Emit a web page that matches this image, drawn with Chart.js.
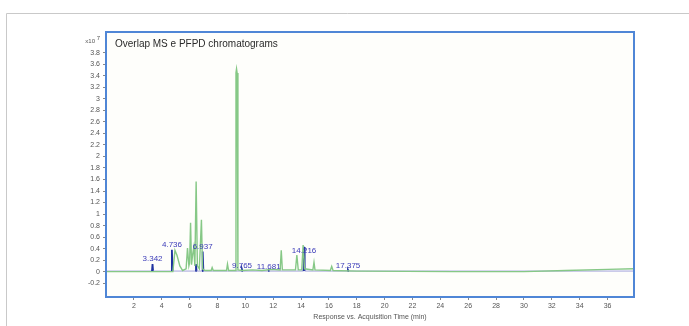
<!DOCTYPE html>
<html>
<head>
<meta charset="utf-8">
<title>Overlap MS e PFPD chromatograms</title>
<script src="https://cdn.jsdelivr.net/npm/chart.js@4.4.1/dist/chart.umd.min.js"></script>
<style>
  html, body { margin: 0; padding: 0; background: #fff; }
  #wrap { position: relative; width: 689px; height: 326px; }
  canvas { display: block; }
</style>
</head>
<body>
<div id="wrap"><canvas id="chromChart" width="689" height="326"></canvas></div>
<script>
'use strict';

/* ---- data (response in units of x10^7, time in min) ---- */
const pfpdTime = [0, 4.8, 4.95, 5.1, 5.3, 5.5, 5.75, 5.85, 5.95, 6.0, 6.07, 6.14, 6.22, 6.3, 6.38, 6.47, 6.56, 6.7, 6.85, 6.93, 7.1,
  7.55, 7.62, 7.7, 8.65, 8.72, 8.8, 9.27, 9.33, 9.37, 9.41, 9.47, 9.8, 10.5, 11.2, 11.9, 12.5, 12.58, 12.66,
  13.6, 13.7, 13.8, 14.05, 14.15, 14.25, 14.85, 14.93, 15.0, 16.1, 16.2, 16.3, 18, 25, 30, 33, 36, 37.9];
const pfpdResp = [0, 0, 0.37, 0.28, 0.1, 0.02, 0.05, 0.41, 0.1, 0.15, 0.85, 0.12, 0.3, 0.42, 0.1, 1.565, 0.1, 0.05, 0.9, 0.05, 0.02,
  0.02, 0.07, 0.02, 0.02, 0.13, 0.02, 0.02, 3.45, 3.52, 3.45, 0.03, 0.02, 0.03, 0.02, 0.04, 0.03, 0.37, 0.03,
  0.03, 0.29, 0.03, 0.03, 0.46, 0.05, 0.03, 0.16, 0.03, 0.02, 0.09, 0.02, 0.01, 0, 0, 0.02, 0.04, 0.05];

const msTime = [0, 3.3, 3.34, 3.38, 4.69, 4.73, 4.78, 6.42, 6.46, 6.5, 6.9, 6.94, 6.99, 9.73, 9.76, 9.8,
  11.65, 11.68, 11.72, 14.18, 14.22, 14.26, 17.34, 17.37, 17.41, 37.9];
const msResp = [0.01, 0.01, 0.13, 0.01, 0.01, 0.38, 0.01, 0.01, 0.13, 0.01, 0.01, 0.35, 0.01, 0.01, 0.04, 0.01,
  0.01, 0.02, 0.01, 0.01, 0.43, 0.01, 0.01, 0.03, 0.01, 0.01];

const peakLabels = ['3.342', '4.736', '6.937', '9.765', '11.681', '14.216', '17.375'];
const peakTimes  = [3.342, 4.736, 6.937, 9.765, 11.681, 14.216, 17.375];
const peakLabelY = [0.22, 0.46, 0.44, 0.11, 0.09, 0.36, 0.11];

const xTicks = [2, 4, 6, 8, 10, 12, 14, 16, 18, 20, 22, 24, 26, 28, 30, 32, 34, 36];
const yTicks = [-0.2, 0, 0.2, 0.4, 0.6, 0.8, 1, 1.2, 1.4, 1.6, 1.8, 2, 2.2, 2.4, 2.6, 2.8, 3, 3.2, 3.4, 3.6, 3.8];

const FONT = "'Liberation Sans', Arial, sans-serif";

/* ---- plugin: frame, plot background, labels ---- */
const decor = {
  id: 'decor',
  beforeDraw(chart) {
    const { ctx, chartArea: a } = chart;
    ctx.save();
    ctx.strokeStyle = '#c9c9c9';
    ctx.lineWidth = 1;
    ctx.beginPath();
    ctx.moveTo(6.5, 326); ctx.lineTo(6.5, 13.5); ctx.lineTo(689, 13.5);
    ctx.stroke();
    ctx.fillStyle = '#fefefb';
    ctx.fillRect(a.left, a.top, a.right - a.left, a.bottom - a.top);
    ctx.restore();
  },
  afterDraw(chart) {
    const { ctx, chartArea: a, scales } = chart;
    ctx.save();
    ctx.strokeStyle = '#4f86d6';
    ctx.lineWidth = 2;
    ctx.strokeRect(a.left, a.top, a.right - a.left, a.bottom - a.top);

    ctx.fillStyle = '#2a2a2a';
    ctx.font = '10px ' + FONT;
    ctx.textBaseline = 'middle';
    ctx.textAlign = 'left';
    ctx.fillText('Overlap MS e PFPD chromatograms', a.left + 9, a.top + 12);

    ctx.fillStyle = '#555';
    ctx.font = '6px ' + FONT;
    ctx.textAlign = 'right';
    ctx.fillText('x10', 95, 41);
    ctx.fillText('7', 100, 38);

    ctx.fillStyle = '#3a3ab8';
    ctx.font = '8px ' + FONT;
    ctx.textAlign = 'center';
    peakLabels.forEach((lab, i) => {
      ctx.fillText(lab, scales.x.getPixelForValue(peakTimes[i]), scales.y.getPixelForValue(peakLabelY[i]));
    });
    ctx.restore();
  }
};

const toPoints = (xs, ys) => xs.map((x, i) => ({ x, y: ys[i] }));

new Chart(document.getElementById('chromChart'), {
  type: 'line',
  data: {
    datasets: [
      {
        label: 'PFPD',
        data: toPoints(pfpdTime, pfpdResp),
        borderColor: '#86c886',
        borderWidth: 1.4,
        pointRadius: 0,
        tension: 0,
      },
      {
        label: 'MS',
        data: toPoints(msTime, msResp),
        borderColor: '#1f32a0',
        borderWidth: 1.8,
        pointRadius: 0,
        tension: 0,
        segment: {
          borderColor: c => (c.p0.parsed.y < 0.02 && c.p1.parsed.y < 0.02) ? '#a3a3dc' : undefined,
          borderWidth: c => (c.p0.parsed.y < 0.02 && c.p1.parsed.y < 0.02) ? 1 : undefined,
        },
      },
    ],
  },
  options: {
    responsive: false,
    devicePixelRatio: 1,
    animation: false,
    layout: { padding: { top: 32, right: 55, left: 0, bottom: 0 } },
    plugins: { legend: { display: false }, tooltip: { enabled: false } },
    scales: {
      x: {
        type: 'linear',
        min: 0, max: 37.9,
        afterBuildTicks: s => { s.ticks = xTicks.map(v => ({ value: v })); },
        afterFit: s => { s.height = 29; },
        border: { display: false },
        grid: { drawOnChartArea: false, tickLength: 3, color: '#888' },
        ticks: { color: '#555', font: { size: 7, family: FONT }, padding: 2, maxRotation: 0, autoSkip: false },
        title: {
          display: true,
          text: 'Response vs. Acquisition Time (min)',
          color: '#555',
          font: { size: 7, family: FONT },
          padding: { top: 0, bottom: 5 },
        },
      },
      y: {
        min: -0.44, max: 4.16,
        afterBuildTicks: s => { s.ticks = yTicks.map(v => ({ value: v })); },
        afterFit: s => { s.width = 106; },
        border: { display: false },
        grid: { drawOnChartArea: false, tickLength: 3, color: '#888' },
        ticks: {
          color: '#555',
          font: { size: 7, family: FONT },
          padding: 3,
          autoSkip: false,
          callback: v => String(Math.round(v * 10) / 10),
        },
      },
    },
  },
  plugins: [decor],
});
</script>
</body>
</html>
